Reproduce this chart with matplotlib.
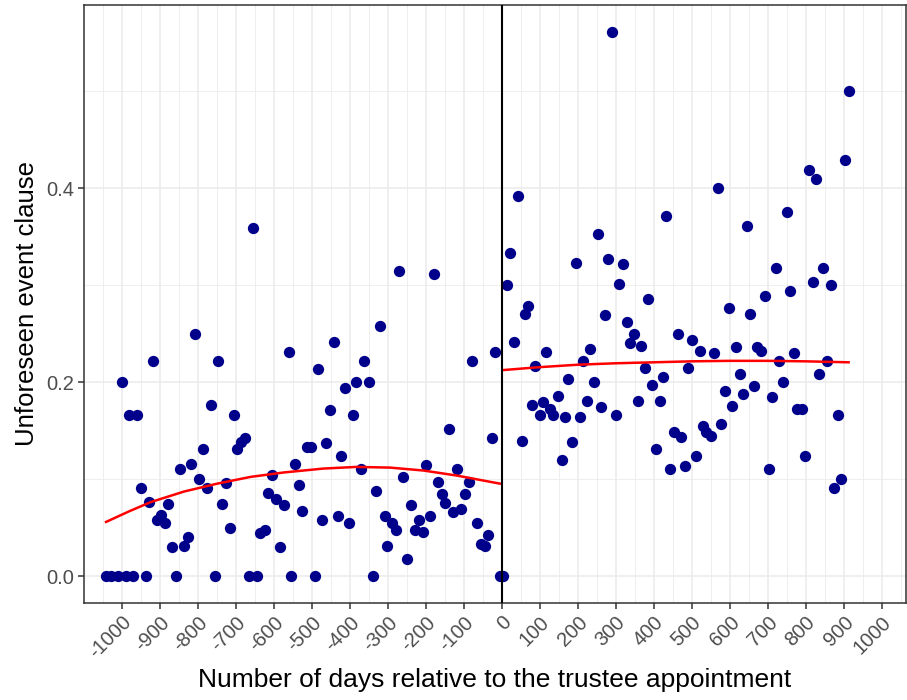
import numpy as np
import matplotlib
matplotlib.use("Agg")
import matplotlib.pyplot as plt
from matplotlib.ticker import MultipleLocator

plt.rcParams["font.family"] = ["Liberation Sans", "DejaVu Sans"]

# days relative to appointment and share of contracts with the clause
days_before = [
    -1041, -1029, -1009, -988, -969, -937, -856, -755, -665, -643, -555, -492, -339, -5,
    -999, -980, -959, -918, -948, -927, -908, -897, -887, -878, -868, -847, -836, -825,
    -817, -806, -797, -787, -776, -766, -747, -736, -726, -715, -704, -696, -685, -675,
    -654, -636, -624, -615, -605, -594, -583, -573, -559, -543, -534, -526, -512, -501,
    -482, -473, -462, -452, -441, -431, -422, -412, -401, -392, -382, -371, -361, -350,
    -331, -320, -308, -301, -289, -278, -269, -259, -250, -238, -229, -218, -208, -199,
    -189, -178, -168, -157, -148, -138, -127, -118, -106, -97, -87, -78, -66, -55, -45,
    -36, -25, -17,
]
share_before = [
    0, 0, 0, 0, 0, 0, 0, 0, 0, 0, 0, 0, 0, 0,
    0.200, 0.166, 0.166, 0.222, 0.091, 0.077, 0.058, 0.063, 0.055, 0.074, 0.030, 0.111, 0.031, 0.041,
    0.116, 0.250, 0.100, 0.131, 0.091, 0.176, 0.222, 0.074, 0.096, 0.050, 0.166, 0.131, 0.138, 0.143,
    0.359, 0.045, 0.048, 0.086, 0.104, 0.080, 0.030, 0.073, 0.231, 0.1155, 0.094, 0.067, 0.133, 0.133,
    0.214, 0.058, 0.137, 0.171, 0.241, 0.062, 0.124, 0.194, 0.055, 0.166, 0.200, 0.111, 0.222, 0.200,
    0.088, 0.258, 0.062, 0.031, 0.055, 0.048, 0.315, 0.102, 0.018, 0.0735, 0.048, 0.058, 0.046, 0.115,
    0.062, 0.312, 0.097, 0.085, 0.076, 0.152, 0.066, 0.111, 0.069, 0.085, 0.097, 0.222, 0.055, 0.033, 0.031,
    0.043, 0.143, 0.231,
]

days_after = [
    4, 14, 23, 33, 42, 53, 61, 70, 81, 89, 100, 109, 118, 128, 136, 147, 158, 167, 175, 186,
    195, 205, 214, 224, 233, 242, 253, 261, 272, 281, 291, 300, 310, 319, 330, 338, 349, 358,
    367, 377, 386, 396, 405, 416, 424, 433, 444, 454, 463, 473, 482, 491, 502, 512, 521, 531,
    539, 550, 559, 569, 578, 587, 597, 606, 617, 626, 636, 645, 653, 664, 673, 683, 694, 703,
    711, 722, 731, 741, 750, 760, 769, 778, 790, 797, 808, 818, 827, 836, 846, 855, 866, 875,
    885, 894, 903, 913,
]
share_after = [
    0, 0.300, 0.333, 0.241, 0.392, 0.139, 0.270, 0.278, 0.177, 0.217, 0.166, 0.180, 0.231, 0.1725,
    0.166, 0.186, 0.120, 0.164, 0.203, 0.138,
    0.323, 0.164, 0.222, 0.181, 0.234, 0.200, 0.353, 0.174, 0.269, 0.327, 0.561, 0.166, 0.301, 0.322,
    0.262, 0.2405, 0.250, 0.181,
    0.2375, 0.215, 0.286, 0.197, 0.131, 0.181, 0.205, 0.371, 0.111, 0.149, 0.250, 0.144, 0.114, 0.215,
    0.243, 0.124, 0.232, 0.155,
    0.1485, 0.145, 0.230, 0.400, 0.157, 0.191, 0.276, 0.175, 0.236, 0.208, 0.188, 0.361, 0.270, 0.196,
    0.236, 0.232, 0.289, 0.111,
    0.185, 0.318, 0.222, 0.200, 0.375, 0.294, 0.230, 0.172, 0.172, 0.124, 0.419, 0.303, 0.409, 0.208,
    0.318, 0.222, 0.300, 0.091,
    0.166, 0.100, 0.4285, 0.500,
]

# fitted trend, before and after the appointment
fit_days_before = [-1041, -980, -923, -836, -748, -661, -573, -469, -382, -294, -206, -118, -5]
fit_before = [0.056, 0.067, 0.0765, 0.0873, 0.0955, 0.1024, 0.107, 0.111, 0.1127, 0.112, 0.109, 0.1038, 0.0955]
fit_days_after = [4, 100, 200, 300, 400, 500, 600, 700, 800, 913]
fit_after = [0.2125, 0.2155, 0.218, 0.2195, 0.2205, 0.2215, 0.222, 0.222, 0.2215, 0.2205]

fig = plt.figure(figsize=(9.07, 7.0), dpi=100)
ax = fig.add_axes([0.0926, 0.1386, 0.9063, 0.8543])

ax.scatter(days_before, share_before, s=66, color="#00008B", linewidths=0, zorder=3)
ax.scatter(days_after, share_after, s=66, color="#00008B", linewidths=0, zorder=3)

ax.plot(fit_days_before, fit_before, color="red", lw=1.8, zorder=4)
ax.plot(fit_days_after, fit_after, color="red", lw=1.8, zorder=4)

ax.axvline(0, color="black", lw=1.5, zorder=5)

ax.set_xlim(-1099, 1064)
ax.set_ylim(-0.0275, 0.5887)
ax.set_xticks(np.arange(-1000, 1001, 100))
ax.set_xticklabels([str(v) for v in range(-1000, 1001, 100)], rotation=45,
                   ha="right", va="top", rotation_mode="anchor")
ax.set_yticks([0.0, 0.2, 0.4])
ax.set_yticklabels(["0.0", "0.2", "0.4"])
ax.xaxis.set_minor_locator(MultipleLocator(50))
ax.yaxis.set_minor_locator(MultipleLocator(0.1))

ax.grid(True, which="major", color="#EBEBEB", lw=1.1, zorder=0)
ax.grid(True, which="minor", color="#EBEBEB", lw=0.6, zorder=0)
ax.set_axisbelow(True)
ax.tick_params(which="minor", length=0)
ax.tick_params(which="major", length=4, width=1.1, color="#333333",
               labelcolor="#4D4D4D", labelsize=14.5, pad=3)
for spine in ax.spines.values():
    spine.set_color("#333333")
    spine.set_linewidth(1.1)

ax.set_xlabel("Number of days relative to the trustee appointment", fontsize=19, labelpad=4)
ax.set_ylabel("Unforeseen event clause", fontsize=18.5, labelpad=5)

fig.savefig("out.png", dpi=100)
